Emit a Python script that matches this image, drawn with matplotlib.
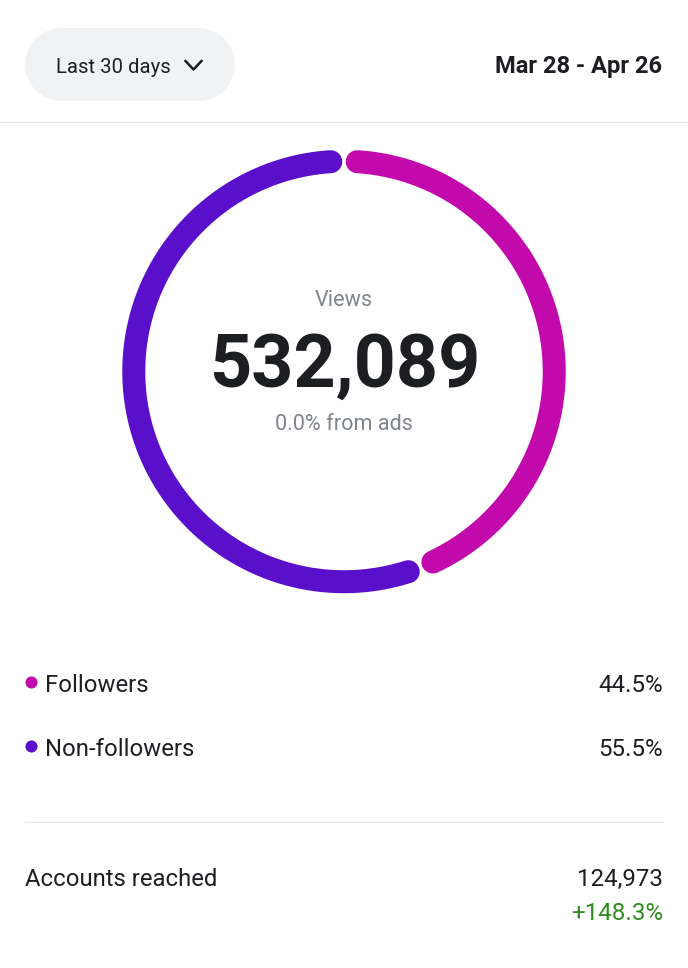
import matplotlib
matplotlib.use("Agg")
import matplotlib.pyplot as plt
import numpy as np

W, H = 688, 968
range_label = "Last 30 days"
date_label = "Mar 28 - Apr 26"
center_title = "Views"
center_value = "532,089"
center_sub = "0.0% from ads"
categories = ["Followers", "Non-followers"]
shares = [44.5, 55.5]
share_labels = ["44.5%", "55.5%"]
colors = ["#C209AC", "#5A0FCB"]
reach_label = "Accounts reached"
reach_value = "124,973"
reach_delta = "+148.3%"

plt.rcParams['font.family'] = ['Roboto', 'DejaVu Sans']
fig = plt.figure(figsize=(W/100, H/100), dpi=100, facecolor='white')
bg = fig.add_axes([0, 0, 1, 1])
bg.set_xlim(0, W); bg.set_ylim(H, 0); bg.axis('off')

bg.plot([24.5+36.5, 234.5-36.5], [64, 64], color='#F1F2F4', lw=52.5, solid_capstyle='round')
bg.text(56, 67.5, range_label, fontsize=14.6, color='#1C1E21', va='center', ha='left')
bg.plot([185.5, 193.5, 201.5], [61, 69.5, 61], color='#1C1E21', lw=1.8)
bg.text(662, 67, date_label, fontsize=17.1, fontweight='bold', color='#1C1E21', va='center', ha='right')
bg.plot([0, W], [122, 122], color='#E8E9EB', lw=1)

# donut
cx, cy, r_out = 344, 371.5, 222
size = 2*r_out
ax = fig.add_axes([(cx-r_out)/W, 1-(cy+r_out)/H, size/W, size/H])
ax.set_aspect('equal')
gap = 7.2
lower_gap_shift = 1.6  # the drawn lower gap sits slightly before the nominal boundary
start = 90
R = 0.947
lw = 23
trims = [(0, lower_gap_shift), (-lower_gap_shift, 0)]
for val, col, (t0, t1) in zip(shares, colors, trims):
    a0 = start - gap/2 - t0
    a1 = start - val*3.6 + gap/2 + t1
    th = np.radians(np.linspace(a0, a1, 300))
    ax.plot(R*np.cos(th), R*np.sin(th), color=col, lw=lw*72/100, solid_capstyle='round')
    start -= val*3.6
ax.set_xlim(-1, 1); ax.set_ylim(-1, 1); ax.axis('off')

bg.text(344, 301, center_title, fontsize=15.6, color='#80858B', ha='center', va='center')
bg.text(344.5, 367, center_value, fontsize=53, fontweight='bold', color='#1C1E21', ha='center', va='center')
bg.text(344, 425, center_sub, fontsize=15.6, color='#80858B', ha='center', va='center')

ys = [685, 749]
for y, c, col, lab in zip(ys, categories, colors, share_labels):
    bg.scatter([30.5], [y-3], s=105*0.72, color=col, linewidths=0)
    bg.text(45, y, c, fontsize=17.2, color='#1C1E21', va='center', ha='left')
    bg.text(663, y, lab, fontsize=17.4, color='#1C1E21', va='center', ha='right')

bg.plot([25, 663], [822, 822], color='#E8E9EB', lw=1)
bg.text(25, 879, reach_label, fontsize=17.2, color='#1C1E21', va='center', ha='left')
bg.text(663, 879, reach_value, fontsize=17.4, color='#1C1E21', va='center', ha='right')
bg.text(663, 914, reach_delta, fontsize=17.4, color='#2E8B1E', va='center', ha='right')

fig.savefig('out.png', dpi=100)
